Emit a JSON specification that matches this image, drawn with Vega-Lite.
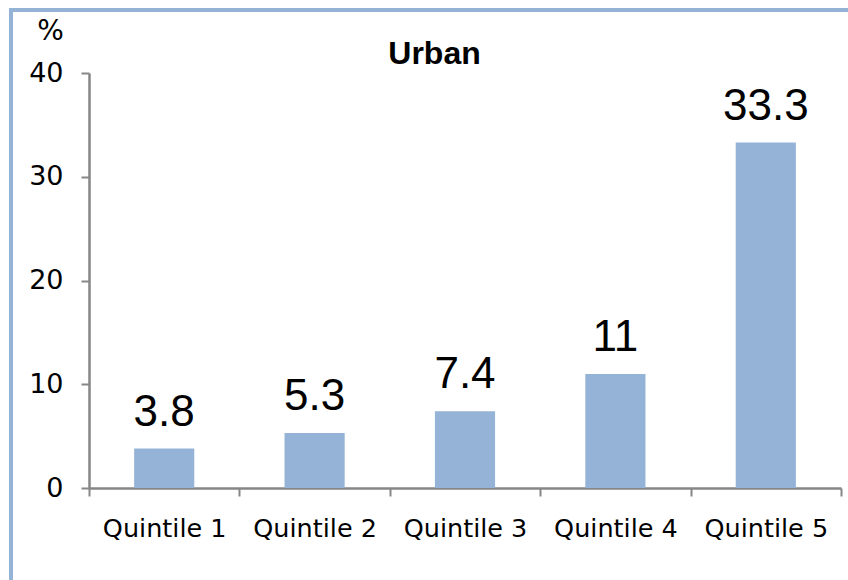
{
  "$schema": "https://vega.github.io/schema/vega-lite/v6.json",
  "width": 847,
  "height": 580,
  "autosize": "none",
  "padding": {"left": 11, "top": 10, "right": -10, "bottom": -10},
  "background": "white",
  "config": {"view": {"stroke": "#95B3D7", "strokeWidth": 4}},
  "title": {
    "text": "Urban",
    "font": "Liberation Sans",
    "fontSize": 32,
    "fontWeight": "bold",
    "color": "black",
    "anchor": "middle",
    "dx": 0,
    "baseline": "alphabetic",
    "offset": 10,
    "dy": 96
  },
  "data": {
    "values": [
      {"q": "Quintile 1", "v": 3.8, "lab": "3.8"},
      {"q": "Quintile 2", "v": 5.3, "lab": "5.3"},
      {"q": "Quintile 3", "v": 7.4, "lab": "7.4"},
      {"q": "Quintile 4", "v": 11, "lab": "11"},
      {"q": "Quintile 5", "v": 33.3, "lab": "33.3"}
    ]
  },
  "encoding": {
    "x": {
      "field": "q",
      "type": "nominal",
      "sort": null,
      "scale": {"paddingInner": 0, "paddingOuter": 0, "range": [78, 830]},
      "axis": {
        "title": null,
        "offset": -102,
        "labelAngle": 0,
        "labelFont": "DejaVu Sans",
        "labelFontSize": 25.5,
        "labelColor": "black",
        "labelPadding": 20,
        "tickBand": "extent",
        "tickSize": 8,
        "tickWidth": 2,
        "tickColor": "#868686",
        "domainColor": "#868686",
        "domainWidth": 2.5
      }
    },
    "y": {
      "field": "v",
      "type": "quantitative",
      "scale": {"domain": [0, 40], "range": [478, 63]},
      "axis": {
        "title": "%",
        "offset": -78,
        "titleAngle": 0,
        "titleX": -39,
        "titleY": 21,
        "titleAlign": "center",
        "titleBaseline": "middle",
        "titleFont": "DejaVu Sans",
        "titleFontSize": 28,
        "titleFontWeight": "normal",
        "titleColor": "black",
        "values": [0, 10, 20, 30, 40],
        "grid": false,
        "labelFont": "DejaVu Sans",
        "labelFontSize": 27,
        "labelColor": "black",
        "labelPadding": 18,
        "tickSize": 8,
        "tickWidth": 2,
        "tickColor": "#868686",
        "domainColor": "#868686",
        "domainWidth": 2.5
      }
    }
  },
  "layer": [
    {"mark": {"type": "bar", "color": "#95B3D7", "width": {"band": 0.4}}},
    {
      "mark": {
        "type": "text",
        "font": "Liberation Sans",
        "fontSize": 44,
        "color": "black",
        "baseline": "alphabetic",
        "dy": -23
      },
      "encoding": {"text": {"field": "lab"}}
    }
  ]
}
